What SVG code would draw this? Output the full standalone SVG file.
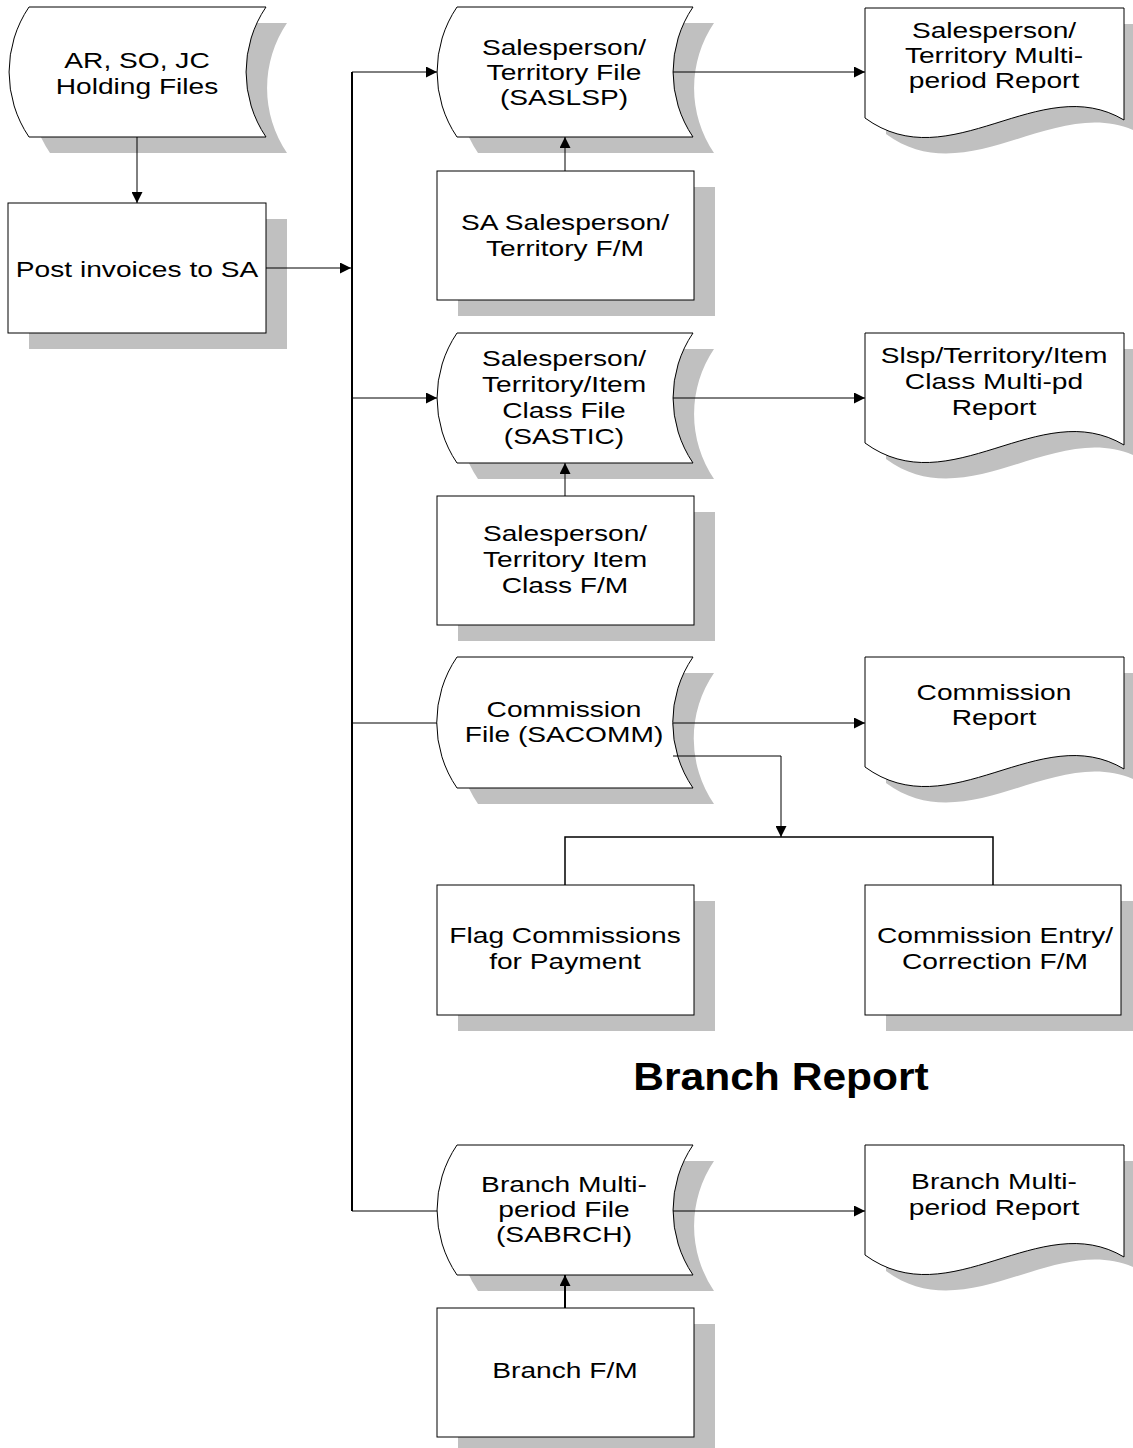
<svg xmlns="http://www.w3.org/2000/svg" width="1133" height="1448" viewBox="0 0 1133 1448">
<style>
.bg{fill:#fff}
.sh{fill:#c0c0c0;stroke:none}
.sp{fill:#fff;stroke:#000;stroke-width:1}
.t{font-family:"Liberation Sans",Arial,sans-serif;font-size:22px;fill:#000;text-anchor:middle}
.ttl{font-family:"Liberation Sans",Arial,sans-serif;font-size:38px;font-weight:bold;fill:#000;text-anchor:middle}
.c{fill:none;stroke:#000;stroke-width:1}
.c2{fill:none;stroke:#000;stroke-width:2}
</style>
<defs>
<marker id="ah" viewBox="0 0 10 10" refX="10" refY="5" markerWidth="11" markerHeight="11" markerUnits="userSpaceOnUse" orient="auto"><path d="M0,0 L10,5 L0,10 z" fill="#000"/></marker>
</defs>
<rect class="bg" x="0" y="0" width="1133" height="1448"/>

<g id="holding-files">
<path class="sh" transform="translate(21,16)" d="M29,7 H266 A116,116 0 0 0 266,137 H29 A116,116 0 0 1 29,7 Z"/>
<path class="sp" d="M29,7 H266 A116,116 0 0 0 266,137 H29 A116,116 0 0 1 29,7 Z"/>
<text class="t" transform="matrix(1.28 0 0 1 137 0)"><tspan x="0" y="68">AR, SO, JC</tspan><tspan x="0" y="94">Holding Files</tspan></text>
</g>

<g id="post-invoices">
<rect class="sh" x="29" y="219" width="258" height="130"/>
<rect class="sp" x="8" y="203" width="258" height="130"/>
<text class="t" transform="matrix(1.28 0 0 1 137 0)"><tspan x="0" y="277">Post invoices to SA</tspan></text>
</g>

<g id="saslsp">
<path class="sh" transform="translate(21,16)" d="M457,7 H693 A116,116 0 0 0 693,137 H457 A116,116 0 0 1 457,7 Z"/>
<path class="sp" d="M457,7 H693 A116,116 0 0 0 693,137 H457 A116,116 0 0 1 457,7 Z"/>
<text class="t" transform="matrix(1.28 0 0 1 564 0)"><tspan x="0" y="55">Salesperson/</tspan><tspan x="0" y="80">Territory File</tspan><tspan x="0" y="105">(SASLSP)</tspan></text>
</g>

<g id="sa-salesperson-fm">
<rect class="sh" x="458" y="187" width="257" height="129"/>
<rect class="sp" x="437" y="171" width="257" height="129"/>
<text class="t" transform="matrix(1.28 0 0 1 565 0)"><tspan x="0" y="230">SA Salesperson/</tspan><tspan x="0" y="256">Territory F/M</tspan></text>
</g>

<g id="sastic">
<path class="sh" transform="translate(21,16)" d="M457,333 H693 A116,116 0 0 0 693,463 H457 A116,116 0 0 1 457,333 Z"/>
<path class="sp" d="M457,333 H693 A116,116 0 0 0 693,463 H457 A116,116 0 0 1 457,333 Z"/>
<text class="t" transform="matrix(1.28 0 0 1 564 0)"><tspan x="0" y="366">Salesperson/</tspan><tspan x="0" y="392">Territory/Item</tspan><tspan x="0" y="418">Class File</tspan><tspan x="0" y="444">(SASTIC)</tspan></text>
</g>

<g id="slsp-terr-item-fm">
<rect class="sh" x="458" y="512" width="257" height="129"/>
<rect class="sp" x="437" y="496" width="257" height="129"/>
<text class="t" transform="matrix(1.28 0 0 1 565 0)"><tspan x="0" y="541">Salesperson/</tspan><tspan x="0" y="567">Territory Item</tspan><tspan x="0" y="593">Class F/M</tspan></text>
</g>

<g id="sacomm">
<path class="sh" transform="translate(21,16)" d="M457,657 H693 A116,116 0 0 0 693,788 H457 A116,116 0 0 1 457,657 Z"/>
<path class="sp" d="M457,657 H693 A116,116 0 0 0 693,788 H457 A116,116 0 0 1 457,657 Z"/>
<text class="t" transform="matrix(1.28 0 0 1 564 0)"><tspan x="0" y="717">Commission</tspan><tspan x="0" y="742">File (SACOMM)</tspan></text>
</g>

<g id="flag-commissions">
<rect class="sh" x="458" y="901" width="257" height="130"/>
<rect class="sp" x="437" y="885" width="257" height="130"/>
<text class="t" transform="matrix(1.28 0 0 1 565 0)"><tspan x="0" y="943">Flag Commissions</tspan><tspan x="0" y="969">for Payment</tspan></text>
</g>

<g id="commission-entry">
<rect class="sh" x="886" y="901" width="256" height="130"/>
<rect class="sp" x="865" y="885" width="256" height="130"/>
<text class="t" transform="matrix(1.28 0 0 1 995 0)"><tspan x="0" y="943">Commission Entry/</tspan><tspan x="0" y="969">Correction F/M</tspan></text>
</g>

<g id="branch-report-title">
<text class="ttl" transform="matrix(1.12 0 0 1 781 0)"><tspan x="0" y="1090">Branch Report</tspan></text>
</g>

<g id="sabrch">
<path class="sh" transform="translate(21,16)" d="M457,1145 H693 A116,116 0 0 0 693,1275 H457 A116,116 0 0 1 457,1145 Z"/>
<path class="sp" d="M457,1145 H693 A116,116 0 0 0 693,1275 H457 A116,116 0 0 1 457,1145 Z"/>
<text class="t" transform="matrix(1.28 0 0 1 564 0)"><tspan x="0" y="1192">Branch Multi-</tspan><tspan x="0" y="1217">period File</tspan><tspan x="0" y="1242">(SABRCH)</tspan></text>
</g>

<g id="branch-fm">
<rect class="sh" x="458" y="1324" width="257" height="129"/>
<rect class="sp" x="437" y="1308" width="257" height="129"/>
<text class="t" transform="matrix(1.28 0 0 1 565 0)"><tspan x="0" y="1378">Branch F/M</tspan></text>
</g>

<g id="slsp-report">
<path class="sh" transform="translate(21,16)" d="M865,8 H1124 V120 C1040,70 950,180 865,118 Z"/>
<path class="sp" d="M865,8 H1124 V120 C1040,70 950,180 865,118 Z"/>
<text class="t" transform="matrix(1.28 0 0 1 994 0)"><tspan x="0" y="38">Salesperson/</tspan><tspan x="0" y="63">Territory Multi-</tspan><tspan x="0" y="88">period Report</tspan></text>
</g>

<g id="sastic-report">
<path class="sh" transform="translate(21,16)" d="M865,333 H1124 V445 C1040,395 950,505 865,443 Z"/>
<path class="sp" d="M865,333 H1124 V445 C1040,395 950,505 865,443 Z"/>
<text class="t" transform="matrix(1.28 0 0 1 994 0)"><tspan x="0" y="363">Slsp/Territory/Item</tspan><tspan x="0" y="389">Class Multi-pd</tspan><tspan x="0" y="415">Report</tspan></text>
</g>

<g id="commission-report">
<path class="sh" transform="translate(21,16)" d="M865,657 H1124 V769 C1040,719 950,829 865,767 Z"/>
<path class="sp" d="M865,657 H1124 V769 C1040,719 950,829 865,767 Z"/>
<text class="t" transform="matrix(1.28 0 0 1 994 0)"><tspan x="0" y="700">Commission</tspan><tspan x="0" y="725">Report</tspan></text>
</g>

<g id="branch-multi-report">
<path class="sh" transform="translate(21,16)" d="M865,1145 H1124 V1257 C1040,1207 950,1317 865,1255 Z"/>
<path class="sp" d="M865,1145 H1124 V1257 C1040,1207 950,1317 865,1255 Z"/>
<text class="t" transform="matrix(1.28 0 0 1 994 0)"><tspan x="0" y="1189">Branch Multi-</tspan><tspan x="0" y="1215">period Report</tspan></text>
</g>

<g id="connectors">
<path class="c" d="M137,137 V203" marker-end="url(#ah)"/>
<path class="c" d="M266,268 H351" marker-end="url(#ah)"/>
<path class="c2" d="M352,72 V1211"/>
<path class="c" d="M352,72 H437" marker-end="url(#ah)"/>
<path class="c" d="M352,398 H437" marker-end="url(#ah)"/>
<path class="c" d="M352,723 H437"/>
<path class="c" d="M352,1211 H437"/>
<path class="c" d="M565,171 V137" marker-end="url(#ah)"/>
<path class="c" d="M565,496 V463" marker-end="url(#ah)"/>
<path class="c2" d="M565,1308 V1275" marker-end="url(#ah)"/>
<path class="c" d="M673,72 H865" marker-end="url(#ah)"/>
<path class="c" d="M673,398 H865" marker-end="url(#ah)"/>
<path class="c" d="M673,723 H865" marker-end="url(#ah)"/>
<path class="c" d="M673,1211 H865" marker-end="url(#ah)"/>
<path class="c" d="M673,756 H781 V837" marker-end="url(#ah)"/>
<path class="c" d="M565,885 V837 H993 V885" style="stroke-width:1.5"/>
</g>
</svg>
